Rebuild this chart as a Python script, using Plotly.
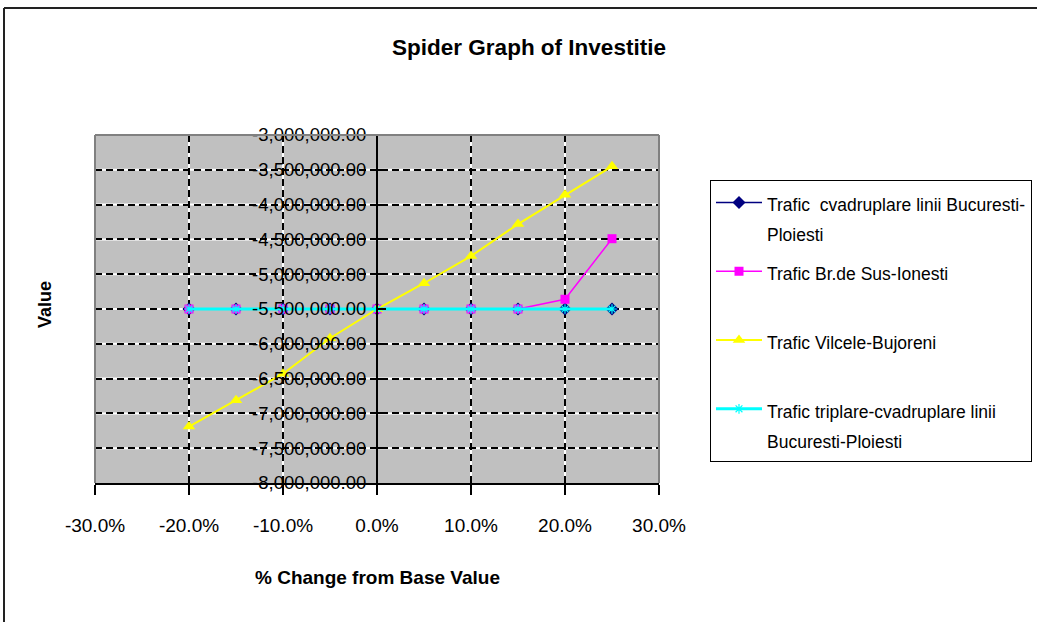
import plotly.graph_objects as go

# ---- data ----
pct_change = [-0.20, -0.15, -0.10, -0.05, 0.00, 0.05, 0.10, 0.15, 0.20, 0.25]
trafic_cvadruplare = [-5500000, -5500000, -5500000, -5500000, -5500000,
                      -5500000, -5500000, -5500000, -5500000, -5500000]
trafic_br_sus = [-5500000, -5500000, -5500000, -5500000, -5500000,
                 -5500000, -5500000, -5500000, -5360000, -4490000]
trafic_vilcele = [-7190000, -6810000, -6430000, -5920000, -5500000,
                  -5130000, -4740000, -4280000, -3860000, -3450000]
trafic_triplare = [-5500000, -5500000, -5500000, -5500000, -5500000,
                   -5500000, -5500000, -5500000, -5500000, -5500000]

series_lines = [
    ["Trafic  cvadruplare linii Bucuresti-", "Ploiesti"],
    ["Trafic Br.de Sus-Ionesti", "&nbsp;"],
    ["Trafic Vilcele-Bujoreni", "&nbsp;"],
    ["Trafic triplare-cvadruplare linii", "Bucuresti-Ploiesti"],
]

x_tickvals = [-0.30, -0.20, -0.10, 0.00, 0.10, 0.20, 0.30]
x_ticktext = ["-30.0%", "-20.0%", "-10.0%", "0.0%", "10.0%", "20.0%", "30.0%"]
y_tickvals = [-3000000, -3500000, -4000000, -4500000, -5000000, -5500000,
              -6000000, -6500000, -7000000, -7500000, -8000000]
y_ticktext = ["-3,000,000.00", "-3,500,000.00", "-4,000,000.00", "-4,500,000.00",
              "-5,000,000.00", "-5,500,000.00", "-6,000,000.00", "-6,500,000.00",
              "-7,000,000.00", "-7,500,000.00", "-8,000,000.00"]

# ---- layout geometry (pixels) ----
W, H = 1037, 622
PL, PR, PT, PB = 95, 659, 135, 483
FONT = "Liberation Sans, Arial, sans-serif"


def px_x(p):
    return (p - PL) / (PR - PL)


def px_y(p):
    return (PB - p) / (PB - PT)


def legend_name(lines):
    return "<br>".join("<span style='font-size:17.5px'>%s</span>" % t for t in lines)


fig = go.Figure()

fig.add_trace(go.Scatter(
    x=pct_change, y=trafic_cvadruplare, name=legend_name(series_lines[0]), legendgroup="a",
    mode="lines+markers", line=dict(color="#000080", width=1.5),
    marker=dict(symbol="diamond", size=10, color="#000080")))
fig.add_trace(go.Scatter(
    x=pct_change, y=trafic_br_sus, name=legend_name(series_lines[1]), legendgroup="b",
    mode="lines+markers", line=dict(color="#FF00FF", width=1.5),
    marker=dict(symbol="square", size=9, color="#FF00FF")))
fig.add_trace(go.Scatter(
    x=pct_change, y=trafic_vilcele, name=legend_name(series_lines[2]), legendgroup="c",
    mode="lines+markers", line=dict(color="#FFFF00", width=2),
    marker=dict(symbol="triangle-up", size=11, color="#FFFF00")))
fig.add_trace(go.Scatter(
    x=pct_change, y=trafic_triplare, name=legend_name(series_lines[3]), legendgroup="d",
    mode="lines+markers", line=dict(color="#00FFFF", width=3),
    marker=dict(symbol="asterisk-open", size=8,
                line=dict(color="#6060FF", width=1.2))))

shapes = []
# white under-stripes for the black/white dashed gridlines
for yv in y_tickvals[1:-1]:
    shapes.append(dict(type="line", xref="x", yref="y", x0=x_tickvals[0], x1=x_tickvals[-1],
                       y0=yv, y1=yv, line=dict(color="white", width=2), layer="below"))
for xv in x_tickvals[1:-1]:
    shapes.append(dict(type="line", xref="x", yref="y", x0=xv, x1=xv,
                       y0=y_tickvals[0], y1=y_tickvals[-1],
                       line=dict(color="white", width=2), layer="below"))
# plot-area border (top/left/right)
for (x0, y0, x1, y1) in [(0, 1, 1, 1), (0, 0, 0, 1), (1, 0, 1, 1)]:
    shapes.append(dict(type="line", xref="paper", yref="paper", x0=x0, y0=y0, x1=x1, y1=y1,
                       line=dict(color="#808080", width=2), layer="above"))
# chart outer border (top and left edges only are visible)
shapes.append(dict(type="line", xref="paper", yref="paper",
                   x0=px_x(4), x1=px_x(1040), y0=px_y(8), y1=px_y(8),
                   line=dict(color="#222222", width=2)))
shapes.append(dict(type="line", xref="paper", yref="paper",
                   x0=px_x(4), x1=px_x(4), y0=px_y(8), y1=px_y(625),
                   line=dict(color="#222222", width=2)))

fig.update_layout(
    width=W, height=H, autosize=False,
    margin=dict(l=PL, r=W - PR, t=PT, b=H - PB, pad=0, autoexpand=False),
    paper_bgcolor="white", plot_bgcolor="#C0C0C0",
    font=dict(family=FONT, color="black"),
    title=dict(text="<b>Spider Graph of Investitie</b>", font=dict(size=22.5, family=FONT),
               x=px_x(529), xref="paper", xanchor="center",
               y=1 - 47 / H, yref="container", yanchor="middle"),
    showlegend=True,
    legend=dict(x=px_x(710), y=px_y(180), xanchor="left", yanchor="top",
                bordercolor="black", borderwidth=1, bgcolor="white",
                font=dict(size=23, family=FONT), valign="top",
                tracegroupgap=6, itemwidth=46),
    shapes=shapes,
    annotations=[
        dict(text="<b>Value</b>", xref="paper", yref="paper", x=px_x(45), y=px_y(305),
             xanchor="center", yanchor="middle",
             textangle=-90, showarrow=False, font=dict(size=18, family=FONT)),
        dict(text="<b>% Change from Base Value</b>", xref="paper", yref="paper",
             x=px_x(377), y=px_y(577), xanchor="center", yanchor="middle",
             showarrow=False, font=dict(size=19, family=FONT)),
    ],
)

fig.update_xaxes(range=[x_tickvals[0], x_tickvals[-1]], tickvals=x_tickvals, ticktext=x_ticktext,
                 showgrid=True, gridcolor="black", gridwidth=2, griddash="7px,4px",
                 zeroline=False, showline=True, linecolor="black", linewidth=2,
                 ticks="outside", ticklen=10, tickwidth=1.5, tickcolor="black",
                 ticklabelstandoff=14, tickfont=dict(size=19, family=FONT))
fig.update_yaxes(range=[y_tickvals[-1], y_tickvals[0]], tickvals=y_tickvals, ticktext=y_ticktext,
                 anchor="free", position=0.5,
                 showgrid=True, gridcolor="black", gridwidth=2, griddash="7px,4px",
                 zeroline=False, showline=True, linecolor="black", linewidth=2,
                 ticks="inside", ticklen=8, tickwidth=1.5, tickcolor="black",
                 ticklabelstandoff=6, tickfont=dict(size=18.5, family=FONT))

fig.write_html("out.html", config={"displayModeBar": False, "responsive": False},
               post_script="document.body.style.margin='0px';"
                           "document.body.style.overflow='hidden';")
